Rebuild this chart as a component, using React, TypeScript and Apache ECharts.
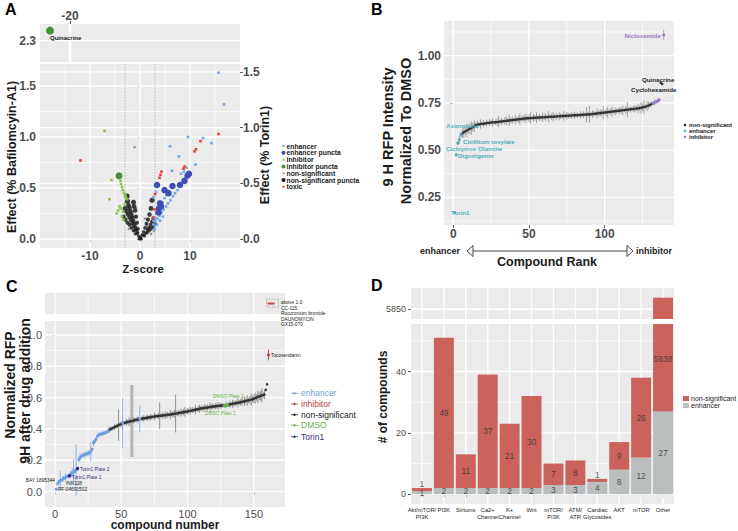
import React, { useEffect, useRef } from 'react';
import * as echarts from 'echarts';

const FONT = "'Liberation Sans', Arial, Helvetica, sans-serif";
const BG = '#EBEBEB';

// ---------------- Panel A ----------------
const aEnhancer = [
  [15.7, 1.63], [16.8, 1.32], [9.6, 1.0], [6.0, 0.91], [7.8, 0.81], [12.6, 0.99], [14.3, 0.94], [11.1, 0.73],
  [8.2, 0.64], [7.5, 0.48], [7.0, 0.45], [6.6, 0.42], [6.1, 0.38], [5.6, 0.35], [5.2, 0.32], [4.7, 0.29],
  [4.3, 0.26], [3.9, 0.23], [3.5, 0.2], [3.1, 0.17], [2.8, 0.14], [5.3, 0.43], [4.9, 0.4], [4.5, 0.36],
  [4.1, 0.33], [3.7, 0.29], [3.3, 0.25], [3.0, 0.21], [2.7, 0.18], [8.8, 0.66], [9.3, 0.7], [6.4, 0.67],
  [4.6, 0.22], [4.0, 0.18], [3.4, 0.14], [2.9, 0.1], [2.7, 0.41], [3.2, 0.46]
];
const aEnhancerPuncta = [
  [3.4, 0.53], [4.9, 0.48], [5.7, 0.45], [6.5, 0.52], [8.0, 0.53], [8.9, 0.57], [9.5, 0.62], [9.8, 0.64],
  [3.8, 0.3], [4.2, 0.32], [3.7, 0.26], [4.0, 0.35]
];
const aInhibitor = [
  [-7.1, 1.06], [-5.7, 0.58], [-6.1, 0.39], [-4.1, 0.32], [-4.4, 0.28], [-3.6, 0.22], [-3.9, 0.3], [-4.7, 0.25],
  [-3.3, 0.19], [-4.1, 0.6], [-3.9, 0.57], [-3.8, 0.54], [-3.6, 0.51], [-3.4, 0.48], [-3.2, 0.45], [-3.0, 0.43],
  [-2.8, 0.41], [-2.6, 0.39], [-3.0, 0.34], [-3.4, 0.27]
];
const aInhibitorPuncta = [[-4.2, 0.62]];
const aQuinacrine = [[-24, 2.342]];
const aNonSig = [
  [-1.1, 0.9], [0.6, 0.04], [-0.4, 0.07], [1.4, 0.12], [-1.6, 0.22], [2.2, 0.05], [-2.2, 0.1], [1.0, 0.2],
  [-0.8, 0.3], [2.8, 0.08]
];
const aNonSigPuncta = [
  [-2.6, 0.42], [-2.5, 0.37], [-2.3, 0.33], [-2.1, 0.3], [-1.9, 0.27], [-1.7, 0.24], [-1.5, 0.21], [-1.3, 0.18],
  [-1.1, 0.15], [-0.9, 0.12], [-0.7, 0.09], [-0.5, 0.06], [-0.3, 0.03], [-3.0, 0.3], [-2.7, 0.27], [-2.4, 0.24],
  [-2.1, 0.21], [-1.8, 0.18], [-1.5, 0.15], [-1.2, 0.12], [-0.9, 0.09], [-0.6, 0.06], [-3.3, 0.22], [-2.9, 0.19],
  [-2.5, 0.16], [-2.1, 0.14], [-1.7, 0.11], [-1.3, 0.08], [-0.9, 0.05], [-1.3, 0.36], [-1.2, 0.32], [-1.0, 0.28],
  [-0.8, 0.22], [-0.6, 0.16], [-0.4, 0.1], [2.4, 0.38], [2.2, 0.3], [1.9, 0.24], [1.6, 0.19], [1.3, 0.15],
  [1.0, 0.11], [0.7, 0.07], [0.4, 0.04], [0.1, 0.01], [2.7, 0.2], [2.4, 0.17], [2.1, 0.14], [1.8, 0.11],
  [1.5, 0.09], [1.2, 0.06], [0.8, 0.04], [3.0, 0.15], [2.6, 0.12], [2.2, 0.1], [1.8, 0.08], [1.4, 0.06],
  [0.9, 0.03], [0, 0], [-0.1, 0.01], [0.2, 0.02], [-0.2, 0.0], [0.3, 0.0]
];
const aToxic = [
  [-11.9, 0.77], [15.7, 1.03], [12.1, 0.96], [10.9, 0.86], [11.2, 0.88], [8.7, 0.69], [8.9, 0.71], [4.3, 0.66],
  [4.1, 0.63], [3.9, 0.6], [3.0, 0.44], [2.9, 0.29], [2.6, 0.21]
];
const aXTicks = [-10, 0, 10];
const aYTicks = [0, 0.5, 1, 1.5];
const aTopXTicks = [-20];
const aTopYTicks = [2.3];
const aThresholds = [-3, 3];
const aLegendNames = ['enhancer', 'enhancer puncta', 'inhibitor', 'inhibitor puncta', 'non-significant', 'non-significant puncta', 'toxic'];

// ---------------- Panel B ----------------
const bValues = [
  0.17, 0.475, 0.537, 0.555, 0.582, 0.588, 0.595, 0.6, 0.604, 0.609,
  0.613, 0.617, 0.622, 0.628, 0.633, 0.635, 0.636, 0.638, 0.639, 0.64,
  0.641, 0.643, 0.644, 0.645, 0.646, 0.647, 0.647, 0.648, 0.649, 0.65,
  0.651, 0.652, 0.653, 0.654, 0.655, 0.656, 0.657, 0.658, 0.659, 0.66,
  0.661, 0.662, 0.663, 0.664, 0.665, 0.666, 0.667, 0.668, 0.669, 0.669,
  0.67, 0.67, 0.671, 0.671, 0.672, 0.672, 0.673, 0.673, 0.674, 0.674,
  0.675, 0.675, 0.676, 0.676, 0.677, 0.677, 0.678, 0.678, 0.679, 0.679,
  0.68, 0.68, 0.681, 0.681, 0.682, 0.682, 0.683, 0.683, 0.684, 0.684,
  0.685, 0.685, 0.686, 0.686, 0.687, 0.687, 0.688, 0.688, 0.689, 0.689,
  0.69, 0.691, 0.692, 0.693, 0.694, 0.695, 0.696, 0.697, 0.698, 0.699,
  0.7, 0.701, 0.702, 0.703, 0.704, 0.705, 0.706, 0.707, 0.708, 0.709,
  0.71, 0.711, 0.712, 0.713, 0.714, 0.715, 0.716, 0.717, 0.718, 0.719,
  0.72, 0.721, 0.722, 0.724, 0.726, 0.728, 0.73, 0.733, 0.736, 0.74,
  0.744, 0.748, 0.752, 0.756, 0.76, 0.766,
  0.856, 0.85, 1.109
];
const bErrors = [
  0, 0.008, 0.01, 0.02, 0.015, 0.025, 0.03, 0.02, 0.035, 0.02,
  0.03, 0.035, 0.025, 0.03, 0.015, 0.02, 0.01, 0.025, 0.012, 0.02,
  0.01, 0.018, 0.008, 0.02, 0.012, 0.025, 0.01, 0.015, 0.02, 0.03,
  0.012, 0.02, 0.01, 0.018, 0.025, 0.012, 0.03, 0.015, 0.02, 0.01,
  0.025, 0.012, 0.018, 0.03, 0.01, 0.02, 0.015, 0.025, 0.012, 0.02,
  0.03, 0.01, 0.02, 0.015, 0.028, 0.012, 0.02, 0.01, 0.025, 0.015,
  0.02, 0.012, 0.03, 0.01, 0.018, 0.025, 0.012, 0.02, 0.01, 0.022,
  0.015, 0.012, 0.025, 0.01, 0.02, 0.015, 0.012, 0.018, 0.01, 0.02,
  0.012, 0.015, 0.01, 0.02, 0.012, 0.018, 0.01, 0.04, 0.015, 0.045,
  0.012, 0.02, 0.015, 0.01, 0.025, 0.012, 0.02, 0.015, 0.035, 0.012,
  0.02, 0.03, 0.012, 0.018, 0.025, 0.01, 0.02, 0.015, 0.012, 0.02,
  0.015, 0.025, 0.01, 0.02, 0.04, 0.012, 0.018, 0.01, 0.015, 0.02,
  0.012, 0.025, 0.015, 0.03, 0.02, 0.035, 0.012, 0.025, 0.02, 0.015,
  0.012, 0.01, 0.015, 0.01, 0.012, 0.01,
  0.005, 0.005, 0.025
];
const bEnhancerRanks = [1, 2, 3, 4, 5];
const bInhibitorRanks = [132, 133, 134, 135, 136, 139];
const bXTicks = [0, 50, 100];
const bYTicks = [0.25, 0.5, 0.75, 1.0];

// ---------------- Panel C ----------------
const cValues = [
  0.015, 0.05, 0.064, 0.07, 0.074, 0.08, 0.088, 0.091, 0.095, 0.1,
  0.102, 0.112, 0.12, 0.125, 0.13, 0.138, 0.147, 0.205, 0.218, 0.226,
  0.232, 0.235, 0.238, 0.242, 0.245, 0.248, 0.255, 0.27, 0.31, 0.32,
  0.335, 0.355, 0.362, 0.366, 0.368, 0.37, 0.373, 0.376, 0.38, 0.388,
  0.395, 0.399, 0.403, 0.408, 0.412, 0.416, 0.42, 0.424, 0.428, 0.432,
  0.436, 0.438, 0.44, 0.443, 0.445, 0.447, 0.449, 0.451, 0.454, 0.456,
  0.458, 0.46, 0.461, 0.463, 0.465, 0.466, 0.468, 0.469, 0.471, 0.472,
  0.474, 0.475, 0.477, 0.478, 0.479, 0.481, 0.482, 0.483, 0.484, 0.485,
  0.486, 0.487, 0.488, 0.489, 0.49, 0.491, 0.492, 0.494, 0.495, 0.497,
  0.498, 0.5, 0.501, 0.503, 0.504, 0.506, 0.507, 0.509, 0.51, 0.512,
  0.514, 0.516, 0.518, 0.52, 0.521, 0.523, 0.525, 0.527, 0.529, 0.531,
  0.532, 0.533, 0.535, 0.536, 0.537, 0.539, 0.54, 0.541, 0.543, 0.544,
  0.545, 0.546, 0.547, 0.548, 0.549, 0.55, 0.551, 0.549, 0.553, 0.551,
  0.555, 0.557, 0.559, 0.561, 0.562, 0.564, 0.566, 0.568, 0.569, 0.571,
  0.573, 0.575, 0.577, 0.579, 0.581, 0.583, 0.585, 0.588, 0.59, 0.593,
  0.597, 0.601, 0.605, 0.608, 0.611, 0.614, 0.617, 0.62, 0.65, 0.685
];
const cErrors = [
  0.008, 0.01, 0.015, 0.065, 0.01, 0.02, 0.012, 0.025, 0.01, 0.015,
  0.012, 0.02, 0.03, 0.08, 0.015, 0.165, 0.01, 0.02, 0.025, 0.015,
  0.01, 0.02, 0.015, 0.012, 0.02, 0.015, 0.06, 0.012, 0.02, 0.015,
  0.012, 0.01, 0.015, 0.012, 0.01, 0.015, 0.012, 0.01, 0.012, 0.015,
  0.02, 0.012, 0.015, 0.01, 0.02, 0.012, 0.015, 0.1, 0.012, 0.02,
  0.16, 0.015, 0.012, 0.02, 0.015, 0.03, 0.012, 0.23, 0.02, 0.015,
  0.012, 0.02, 0.015, 0.085, 0.012, 0.015, 0.02, 0.012, 0.015, 0.02,
  0.012, 0.02, 0.015, 0.012, 0.025, 0.015, 0.012, 0.02, 0.085, 0.015,
  0.02, 0.012, 0.025, 0.015, 0.02, 0.012, 0.03, 0.015, 0.02, 0.025,
  0.12, 0.015, 0.02, 0.012, 0.025, 0.015, 0.02, 0.03, 0.012, 0.02,
  0.015, 0.025, 0.012, 0.02, 0.015, 0.03, 0.012, 0.02, 0.025, 0.015,
  0.02, 0.012, 0.025, 0.015, 0.02, 0.012, 0.03, 0.015, 0.02, 0.012,
  0.02, 0.015, 0.025, 0.012, 0.02, 0.015, 0.012, 0.01, 0.02, 0.01,
  0.015, 0.02, 0.012, 0.025, 0.015, 0.02, 0.012, 0.03, 0.015, 0.02,
  0.025, 0.015, 0.03, 0.02, 0.035, 0.015, 0.025, 0.04, 0.02, 0.03,
  0.035, 0.02, 0.04, 0.025, 0.03, 0.045, 0.02, 0.03, 0.01, 0.01
];
const cEnhancerUpTo = 40;
const cExtraEnhancers = [51, 64];
const cTorin1 = [11, 17];
const cDmso = [128, 130];
const cWideErrors = [58];
const cInhibitor = [[161, 0.872, 0.034]];
const cAboveOne = [[163, 0.5]];
const cXTicks = [0, 50, 100, 150];
const cYTicks = [0, 0.2, 0.4, 0.6, 0.8, 1.0];

// ---------------- Panel D ----------------
const dCategories = ['Akt/mTOR/\nPI3K', 'PI3K', 'Sirtuins', 'Ca2+\nChannel', 'K+\nChannel', 'Wnt', 'mTOR/\nPI3K', 'ATM/\nATR', 'Cardiac\nGlycosides', 'AKT', 'mTOR', 'Other'];
const dEnhancer = [1, 2, 2, 2, 2, 2, 3, 3, 4, 8, 12, 27];
const dNonSig = [1, 49, 11, 37, 21, 30, 7, 8, 1, 9, 26, 5838];
const dYTicks = [0, 20, 40];
const dTopYTicks = [5850];

// ---------------- helpers ----------------
const W = 738;
const H = 531;
const MAJ = 1.4;
const MIN = 0.7;

function vAxis(gridIndex: number, min: number, max: number, ticks: number[], o: any = {}) {
  const show = ticks.length > 0;
  return {
    type: 'value', gridIndex, min, max, position: o.position,
    axisLine: { show: false }, splitLine: { show: false },
    axisTick: { show, customValues: ticks, length: 3, lineStyle: { color: '#333', width: 0.8 } },
    axisLabel: {
      show, customValues: ticks, color: o.color || '#4D4D4D', fontFamily: FONT,
      fontSize: o.fontSize || 12, fontWeight: o.fontWeight || 'bold', margin: o.margin ?? 4,
      formatter: o.formatter || ((v: number) => String(v)),
    },
  };
}

type GL = { dir: 'v' | 'h'; v: number; w: number; c?: string; d?: number[] };
const vl = (vals: number[], w: number, c = '#FFFFFF', d?: number[]): GL[] => vals.map(v => ({ dir: 'v', v, w, c, d }));
const hl = (vals: number[], w: number, c = '#FFFFFF', d?: number[]): GL[] => vals.map(v => ({ dir: 'h', v, w, c, d }));

// grid lines drawn through the axes with a custom series
function gridLines(xi: number, yi: number, items: GL[]) {
  return {
    type: 'custom', xAxisIndex: xi, yAxisIndex: yi, silent: true, z: 1,
    encode: { x: 0, y: 1 },
    data: items.map(it => (it.dir === 'v' ? [it.v, 0] : [0, it.v])),
    renderItem: (params: any, api: any) => {
      const it = items[params.dataIndex];
      const cs = params.coordSys;
      const style = { stroke: it.c || '#FFFFFF', lineWidth: it.w, lineDash: it.d || null };
      if (it.dir === 'v') {
        const px = api.coord([it.v, 0])[0];
        return { type: 'line', shape: { x1: px, y1: cs.y, x2: px, y2: cs.y + cs.height }, style };
      }
      const py = api.coord([0, it.v])[1];
      return { type: 'line', shape: { x1: cs.x, y1: py, x2: cs.x + cs.width, y2: py }, style };
    },
  };
}

function errSeries(xi: number, yi: number, data: number[][], color: string, width: number) {
  return {
    type: 'custom', xAxisIndex: xi, yAxisIndex: yi, silent: true, z: 2,
    encode: { x: 0, y: [1, 2] },
    data,
    renderItem: (_p: any, api: any) => {
      const x = api.value(0);
      const a = api.coord([x, api.value(1)]);
      const b = api.coord([x, api.value(2)]);
      return { type: 'line', shape: { x1: a[0], y1: a[1], x2: b[0], y2: b[1] }, style: { stroke: color, lineWidth: width } };
    },
  };
}

function sc(xi: number, yi: number, data: any[], color: string, size: any, symbol = 'circle', extra: any = {}) {
  return { type: 'scatter', xAxisIndex: xi, yAxisIndex: yi, data, symbol, symbolSize: size, silent: true, z: 3, itemStyle: { color, opacity: 1 }, ...extra };
}

function txt(text: string, x: number, y: number, size: number, o: any = {}) {
  return {
    type: 'text', x, y, rotation: o.rotation || 0, z: 20, silent: true,
    style: {
      text, fill: o.color || '#1A1A1A', fontSize: size, fontFamily: FONT, fontWeight: o.bold ? 'bold' : 'normal',
      align: o.align || 'left', verticalAlign: 'middle',
    },
  };
}

function buildOption() {
  const grids = [
    { left: 40, top: 24, width: 200, height: 38 },
    { left: 40, top: 64, width: 200, height: 184 },
    { left: 444, top: 21, width: 230, height: 204 },
    { left: 45, top: 293, width: 240, height: 21 },
    { left: 45, top: 321, width: 240, height: 186 },
    { left: 411, top: 288, width: 263, height: 31 },
    { left: 411, top: 324, width: 263, height: 180 },
  ].map(g => ({ ...g, show: true, backgroundColor: BG, borderWidth: 0, containLabel: false }));

  const f1 = (v: number) => v.toFixed(1);
  const f2 = (v: number) => v.toFixed(2);

  const xAxis: any[] = [
    vAxis(0, -26, 14, aTopXTicks, { position: 'top', margin: 2 }),
    vAxis(1, -20, 20, aXTicks, { margin: 2 }),
    vAxis(2, -6.1, 145.8, bXTicks, { margin: 3 }),
    vAxis(3, -7.5, 173.5, []),
    vAxis(4, -7.5, 173.5, cXTicks, { fontSize: 11, fontWeight: 'normal', margin: 1 }),
    {
      type: 'category', gridIndex: 5, data: dCategories, axisLine: { show: false }, axisTick: { show: false },
      axisLabel: { show: false }, splitLine: { show: false },
    },
    {
      type: 'category', gridIndex: 6, data: dCategories, axisLine: { show: false },
      axisTick: { show: true, alignWithLabel: true, length: 3, lineStyle: { color: '#333', width: 0.8 } },
      axisLabel: { interval: 0, fontSize: 5.8, lineHeight: 7.5, color: '#222', fontFamily: FONT, margin: 2 },
      splitLine: { show: false },
    },
  ];
  const yAxis: any[] = [
    vAxis(0, 2.21, 2.37, aTopYTicks, { formatter: f1 }),
    vAxis(1, -0.088, 1.716, aYTicks, { formatter: f1 }),
    vAxis(1, -0.081, 1.571, aYTicks, { formatter: f1, position: 'right', margin: 3 }),
    vAxis(2, 0.104, 1.183, bYTicks, { formatter: f2, margin: 3 }),
    vAxis(3, 0, 1, []),
    vAxis(4, -0.098, 1.089, cYTicks, { formatter: f1, fontSize: 11, fontWeight: 'normal', margin: 3 }),
    vAxis(5, 5837.5, 5877.5, dTopYTicks, { fontSize: 9, fontWeight: 'normal', margin: 5 }),
    vAxis(6, -3.2, 55.5, dYTicks, { fontSize: 9, fontWeight: 'normal', margin: 5 }),
  ];

  const series: any[] = [];

  // ----- A -----
  series.push(gridLines(0, 0, [...hl(aTopYTicks, MAJ), ...vl(aTopXTicks, 2.5)]));
  series.push(gridLines(1, 1, [
    ...vl([-15, -5, 5, 15], MIN), ...hl([0.25, 0.75, 1.25], MIN),
    ...vl(aXTicks, MAJ), ...hl(aYTicks, MAJ),
    ...vl(aThresholds, 0.7, '#A0A0A0', [1.5, 1.5]),
  ]));
  series.push(gridLines(1, 2, hl([0.5, 1, 1.5], MAJ)));
  series.push(sc(1, 1, aNonSig, '#9A9A9A', 2.5, 'rect'));
  series.push(sc(1, 1, aNonSigPuncta, '#1E1E1E', (v: number[]) => 3 + Math.min(2.5, v[1] * 6), 'circle', { itemStyle: { color: '#1E1E1E', opacity: 0.85 } }));
  series.push(sc(1, 1, aInhibitor, '#8BC34A', 2.6, 'rect'));
  series.push(sc(1, 1, aEnhancer, '#6EA8EC', 2.6, 'rect'));
  series.push(sc(1, 1, aToxic, '#E4432D', 2.6, 'rect'));
  series.push(sc(1, 1, aEnhancerPuncta, '#3C4DB3', 6.5));
  series.push(sc(1, 1, aInhibitorPuncta, '#4A8A3E', 7));
  series.push(sc(0, 0, aQuinacrine, '#4A8A3E', 8, 'circle', {
    label: { show: true, formatter: 'Quinacrine', position: 'right', distance: 0, offset: [-4, 7], fontSize: 6, fontWeight: 'bold', color: '#1A1A1A', fontFamily: FONT },
  }));

  // ----- B -----
  series.push(gridLines(2, 3, [
    ...vl([25, 75, 125], MIN), ...hl([0.125, 0.375, 0.625, 0.875, 1.125], MIN),
    ...vl(bXTicks, MAJ), ...hl(bYTicks, MAJ),
  ]));
  const bErr = bValues.map((v, i) => [i + 1, v - bErrors[i], v + bErrors[i]]);
  series.push(errSeries(2, 3, bErr, '#8E8E8E', 0.8));
  const bPts = bValues.map((v, i) => [i + 1, v]);
  series.push(sc(2, 3, bPts.filter(p => !bEnhancerRanks.includes(p[0]) && !bInhibitorRanks.includes(p[0])), '#333333', 2.5));
  series.push(sc(2, 3, bPts.filter(p => bEnhancerRanks.includes(p[0])), '#4BB0B8', 3));
  series.push(sc(2, 3, bPts.filter(p => bInhibitorRanks.includes(p[0])), '#9B7BC8', 3));

  // ----- C -----
  series.push(gridLines(3, 4, [...vl([25, 75, 125], MIN), ...vl(cXTicks, MAJ)]));
  series.push(gridLines(4, 5, [
    ...vl([25, 75, 125], MIN), ...hl([0.1, 0.3, 0.5, 0.7, 0.9], MIN),
    ...vl(cXTicks, MAJ), ...hl(cYTicks, MAJ),
  ]));
  const cls = (n: number) => {
    if (cTorin1.includes(n)) return 'torin';
    if (cDmso.includes(n)) return 'dmso';
    if (n <= cEnhancerUpTo || cExtraEnhancers.includes(n)) return 'enh';
    return 'ns';
  };
  const cAll = cValues.map((v, i) => ({ n: i + 1, v, e: cErrors[i], c: cls(i + 1) }));
  const errOf = (list: any[]) => list.map(d => [d.n, d.v - d.e, d.v + d.e]);
  series.push(errSeries(4, 5, errOf(cAll.filter(d => cWideErrors.includes(d.n))), '#B4B4B4', 3));
  series.push(errSeries(4, 5, errOf(cAll.filter(d => d.c === 'ns' && !cWideErrors.includes(d.n))), '#7A7A7A', 0.8));
  series.push(errSeries(4, 5, errOf(cAll.filter(d => d.c === 'enh')), '#7BA7E6', 0.8));
  series.push(errSeries(4, 5, errOf(cAll.filter(d => d.c === 'dmso' || d.c === 'torin')), '#888888', 0.8));
  series.push(errSeries(4, 5, cInhibitor.map(d => [d[0], d[1] - d[2], d[1] + d[2]]), '#C0443C', 1));
  const pts = (c: string) => cAll.filter(d => d.c === c).map(d => [d.n, d.v]);
  series.push(sc(4, 5, pts('ns'), '#333333', 2.5));
  series.push(sc(4, 5, pts('enh'), '#6E9FE0', 3));
  series.push(sc(4, 5, pts('dmso'), '#6AB04C', 3.5));
  series.push(sc(4, 5, pts('torin'), '#2F2470', 3.5));
  series.push(sc(4, 5, cInhibitor.map(d => [d[0], d[1]]), '#C0443C', 3));
  series.push(sc(3, 4, cAboveOne, '#C0443C', [7, 2], 'rect'));

  // ----- D -----
  const catIdx = dCategories.map((_c, i) => i);
  series.push(gridLines(5, 6, [...vl(catIdx, MAJ), ...hl(dTopYTicks, MAJ)]));
  series.push(gridLines(6, 7, [...hl([10, 30, 50], MIN), ...vl(catIdx, MAJ), ...hl(dYTicks, MAJ)]));
  series.push({
    type: 'bar', xAxisIndex: 5, yAxisIndex: 6, silent: true, barCategoryGap: '9%', clip: true, z: 2,
    data: dNonSig.map((v, i) => (i === dNonSig.length - 1 ? v + dEnhancer[i] : '-')),
    itemStyle: { color: '#CB625C' },
  });
  series.push({
    type: 'bar', xAxisIndex: 6, yAxisIndex: 7, silent: true, stack: 'd', barCategoryGap: '9%', clip: true, z: 2,
    data: dEnhancer, itemStyle: { color: '#BABEBE' },
  });
  series.push({
    type: 'bar', xAxisIndex: 6, yAxisIndex: 7, silent: true, stack: 'd', barCategoryGap: '9%', clip: true, z: 2,
    data: dNonSig, itemStyle: { color: '#CB625C' },
  });
  const dLabelData: any[] = [];
  dEnhancer.forEach((e, i) => {
    dLabelData.push({ value: [i, e / 2], name: String(e) });
    const n = dNonSig[i];
    const y = n <= 1 ? e + n + 1.3 : Math.min(e + n / 2, 44);
    dLabelData.push({ value: [i, y], name: String(n) });
  });
  series.push({
    type: 'scatter', xAxisIndex: 6, yAxisIndex: 7, silent: true, z: 4, symbolSize: 0, data: dLabelData,
    label: { show: true, position: 'inside', formatter: '{b}', fontSize: 8.5, color: '#333', fontFamily: FONT },
  });

  // ----- graphics -----
  const g: any[] = [];
  g.push(txt('A', 5, 9, 16, { bold: true, color: '#000' }));
  g.push(txt('B', 371, 9, 16, { bold: true, color: '#000' }));
  g.push(txt('C', 6, 286, 16, { bold: true, color: '#000' }));
  g.push(txt('D', 371, 285, 16, { bold: true, color: '#000' }));

  // A titles
  g.push(txt('Effect (% Bafilomcyin-A1)', 12, 157, 12.5, { bold: true, rotation: Math.PI / 2, align: 'center' }));
  g.push(txt('Effect (% Torin1)', 265, 155, 12.5, { bold: true, rotation: Math.PI / 2, align: 'center' }));
  g.push(txt('Z-score', 143, 268.5, 11.5, { bold: true, align: 'center' }));
  const aLegColors = ['#6EA8EC', '#3C4DB3', '#8BC34A', '#4A8A3E', '#9A9A9A', '#1E1E1E', '#E4432D'];
  const aLegBig = [false, true, false, true, false, true, false];
  aLegendNames.forEach((name, i) => {
    const y = 146 + i * 6.8;
    if (aLegBig[i]) g.push({ type: 'circle', shape: { cx: 283.5, cy: y, r: 2 }, style: { fill: aLegColors[i] }, z: 20, silent: true });
    else g.push({ type: 'rect', shape: { x: 282.5, y: y - 1, width: 2, height: 2 }, style: { fill: aLegColors[i] }, z: 20, silent: true });
    g.push(txt(name, 286.5, y, 6.8, { bold: true, color: '#222' }));
  });

  // B titles & labels
  g.push(txt('9 H RFP Intensity', 388, 127, 14.5, { bold: true, rotation: Math.PI / 2, align: 'center' }));
  g.push(txt('Normalized To DMSO', 406, 131, 14.5, { bold: true, rotation: Math.PI / 2, align: 'center' }));
  const teal = '#4BB0B8';
  const purple = '#9B7BC8';
  g.push(txt('Niclosamide', 661, 35, 6.2, { bold: true, color: purple, align: 'right' }));
  g.push(txt('Quinacrine', 642, 79, 6.2, { bold: true, color: '#222' }));
  g.push(txt('Cyclohexamide', 631, 89, 6.2, { bold: true, color: '#222' }));
  g.push(txt('Astemizole', 446, 125, 6.2, { bold: true, color: teal }));
  g.push(txt('Clofilium tosylate', 463, 141, 6.2, { bold: true, color: teal }));
  g.push(txt('Ciclopirox Olamine', 446, 148, 6.2, { bold: true, color: teal }));
  g.push(txt('Digoxigenin', 458, 155, 6.2, { bold: true, color: teal }));
  g.push(txt('Torin1', 451, 212, 6.2, { bold: true, color: teal }));
  [['non-significant', '#333333'], ['enhancer', teal], ['inhibitor', purple]].forEach((it, i) => {
    const y = 125 + i * 6;
    g.push({ type: 'circle', shape: { cx: 685, cy: y, r: 1.3 }, style: { fill: it[1] }, z: 20, silent: true });
    g.push(txt(it[0], 689, y, 6, { bold: true, color: '#222' }));
  });
  g.push(txt('enhancer', 460, 251, 9, { bold: true, color: '#222', align: 'right' }));
  g.push(txt('inhibitor', 636, 251, 9, { bold: true, color: '#222' }));
  g.push({ type: 'line', shape: { x1: 473, y1: 251, x2: 627, y2: 251 }, style: { stroke: '#444', lineWidth: 1.2 }, z: 20, silent: true });
  g.push({ type: 'polygon', shape: { points: [[467, 251], [473, 245.5], [473, 256.5]] }, style: { fill: '#fff', stroke: '#444', lineWidth: 1 }, z: 20, silent: true });
  g.push({ type: 'polygon', shape: { points: [[633, 251], [627, 245.5], [627, 256.5]] }, style: { fill: '#fff', stroke: '#444', lineWidth: 1 }, z: 20, silent: true });
  g.push(txt('Compound Rank', 547, 262, 12.5, { bold: true, align: 'center' }));

  // C titles & annotations
  g.push(txt('Normalized RFP', 10, 385, 14, { bold: true, rotation: Math.PI / 2, align: 'center' }));
  g.push(txt('9H after drug addition', 25, 391, 14, { bold: true, rotation: Math.PI / 2, align: 'center' }));
  g.push(txt('compound number', 165, 525, 12, { bold: true, align: 'center' }));
  const cs = 4.8;
  g.push(txt('BAY 1895344', 55, 480, cs, { color: '#222', align: 'right' }));
  g.push(txt('INK128', 66, 483.5, cs, { color: '#222' }));
  g.push(txt('PF-04691502', 58, 489, cs, { color: '#222' }));
  g.push(txt('Torin1 Plate 1', 72, 477, cs, { color: '#3A2C7D' }));
  g.push(txt('Torin1 Plate 2', 80, 469, cs, { color: '#3A2C7D' }));
  g.push(txt('DMSO Plate 2', 213, 396, cs, { color: '#6AB04C' }));
  g.push(txt('DMSO Plate 1', 205, 413, cs, { color: '#6AB04C' }));
  g.push(txt('Tocosendanin', 271, 355, cs, { color: '#222' }));
  ['above 1.0:', 'CC-115', 'Rocuronium bromide', 'DAUNOMYCIN', 'GX15-070'].forEach((s, i) => {
    g.push(txt(s, 281, 302.7 + i * 5.5, cs, { color: '#222' }));
  });
  g.push({ type: 'rect', shape: { x: 266.5, y: 299, width: 12, height: 8 }, style: { fill: 'none', stroke: '#888', lineWidth: 0.6, lineDash: [1.5, 1] }, z: 20, silent: true });
  [['enhancer', '#6E9FE0'], ['inhibitor', '#B8433C'], ['non-significant', '#222222'], ['DMSO', '#6AB04C'], ['Torin1', '#3A2C7D']].forEach((it, i) => {
    const y = [393.3, 404, 414.7, 425.3, 436.7][i];
    g.push({ type: 'line', shape: { x1: 291, y1: y, x2: 298, y2: y }, style: { stroke: it[1], lineWidth: 0.8 }, z: 20, silent: true });
    g.push({ type: 'circle', shape: { cx: 294.5, cy: y, r: 1.2 }, style: { fill: it[1] }, z: 20, silent: true });
    g.push(txt(it[0], 301, y, 8.5, { color: it[1] }));
  });

  // D title & legend
  g.push(txt('# of compounds', 383, 397, 12, { bold: true, rotation: Math.PI / 2, align: 'center' }));
  g.push({ type: 'rect', shape: { x: 683, y: 396, width: 6, height: 5 }, style: { fill: '#CB625C' }, z: 20, silent: true });
  g.push({ type: 'rect', shape: { x: 683, y: 403, width: 6, height: 5 }, style: { fill: '#BABEBE' }, z: 20, silent: true });
  g.push(txt('non-significant', 691, 398.5, 7, { color: '#222' }));
  g.push(txt('enhancer', 691, 405.5, 7, { color: '#222' }));

  return {
    animation: false,
    backgroundColor: '#FFFFFF',
    textStyle: { fontFamily: FONT },
    grid: grids,
    xAxis,
    yAxis,
    series,
    graphic: { elements: g },
  };
}

export default function App() {
  const ref = useRef<HTMLDivElement>(null);
  useEffect(() => {
    if (!ref.current) return;
    const chart = echarts.init(ref.current, undefined, { renderer: 'svg' });
    chart.setOption(buildOption() as any);
    return () => chart.dispose();
  }, []);
  return <div ref={ref} style={{ position: 'fixed', left: 0, top: 0, width: W, height: H, background: '#fff' }} />;
}
